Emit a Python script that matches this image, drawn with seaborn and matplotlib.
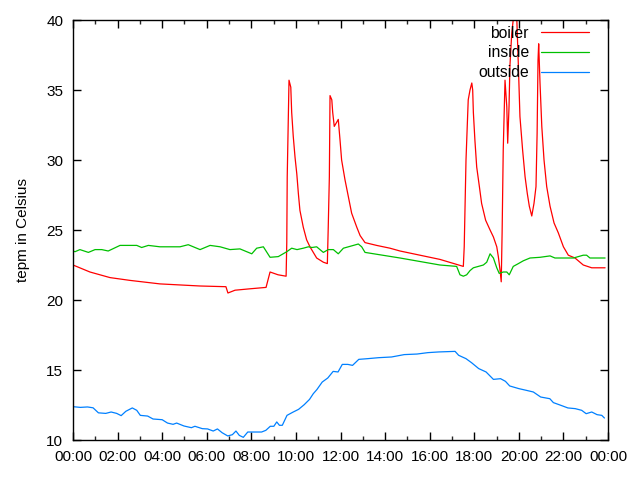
import matplotlib
matplotlib.use("Agg")
import matplotlib.pyplot as plt
import seaborn as sns
import pandas as pd
from matplotlib.ticker import MultipleLocator, FuncFormatter

# ---- data (hours since midnight, degrees Celsius) ----
boiler_h = [0.0, 0.76, 1.66, 2.56, 3.9, 5.7, 6.86, 6.95, 7.27, 7.94, 8.66, 8.84, 9.2, 9.56,
            9.59, 9.61, 9.69, 9.77, 9.81, 9.88, 9.96, 10.04, 10.11, 10.18, 10.33, 10.48, 10.63,
            10.93, 11.23, 11.41, 11.45, 11.5, 11.53, 11.61, 11.65, 11.72, 11.83, 11.9, 11.98,
            12.05, 12.2, 12.35, 12.5, 12.73, 12.88, 13.1, 13.62, 14.22, 14.67, 16.46, 17.51,
            17.55, 17.63, 17.69, 17.73, 17.81, 17.89, 17.93, 17.96, 18.03, 18.11, 18.23, 18.33,
            18.51, 18.71, 18.86, 19.01, 19.08, 19.16, 19.21, 19.25, 19.3, 19.38, 19.43, 19.46,
            19.5, 19.56, 19.6, 19.68, 19.78, 19.9, 19.98, 20.05, 20.17, 20.28, 20.38, 20.47,
            20.58, 20.68, 20.77, 20.82, 20.86, 20.89, 20.95, 21.03, 21.13, 21.25, 21.4, 21.58,
            21.77, 22.0, 22.22, 22.52, 22.89, 23.27, 23.87]
boiler_t = [22.5, 22.0, 21.6, 21.4, 21.15, 21.0, 20.95, 20.5, 20.7, 20.8, 20.9, 22.0, 21.8, 21.7,
            24.1, 28.8, 35.7, 35.2, 33.4, 31.7, 30.2, 29.0, 27.6, 26.4, 25.2, 24.3, 23.8,
            23.0, 22.7, 22.6, 25.2, 28.8, 34.6, 34.3, 33.4, 32.4, 32.7, 32.9, 31.4,
            30.0, 28.6, 27.4, 26.2, 25.2, 24.6, 24.1, 23.9, 23.7, 23.5, 22.9, 22.4,
            23.8, 30.0, 32.6, 34.3, 35.0, 35.5, 35.0, 33.4, 31.4, 29.5, 28.1, 26.9,
            25.7, 25.0, 24.5, 23.8, 23.1, 22.1, 21.3, 24.8, 30.7, 35.7, 34.5, 33.8,
            31.2, 33.8, 36.7, 39.0, 40.5, 40.5, 36.7, 33.1, 30.7, 28.8, 27.6, 26.7,
            26.0, 26.9, 28.1, 31.9, 37.1, 38.3, 35.5, 32.4, 30.0, 28.1, 26.7, 25.5,
            24.8, 23.8, 23.2, 23.0, 22.5, 22.3, 22.3]

inside_h = [0.0, 0.09, 0.31, 0.69, 0.99, 1.29, 1.58, 2.11, 2.41, 2.86, 3.08, 3.38, 3.9, 4.35,
            4.8, 5.17, 5.7, 6.15, 6.6, 7.04, 7.49, 8.02, 8.24, 8.54, 8.84, 9.21, 9.59, 9.81,
            10.05, 10.33, 10.56, 10.72, 10.93, 11.23, 11.45, 11.68, 11.9, 12.13, 12.58, 12.8,
            12.95, 13.1, 14.67, 16.46, 17.21, 17.36, 17.51, 17.66, 17.81, 17.96, 18.41, 18.56,
            18.71, 18.86, 19.01, 19.12, 19.3, 19.46, 19.57, 19.75, 19.98, 20.2, 20.5, 20.95,
            21.4, 21.62, 21.85, 22.45, 22.89, 23.04, 23.19, 23.87]
inside_t = [23.5, 23.45, 23.6, 23.4, 23.6, 23.6, 23.5, 23.9, 23.9, 23.9, 23.75, 23.9, 23.8, 23.8,
            23.8, 23.95, 23.6, 23.9, 23.8, 23.6, 23.65, 23.3, 23.7, 23.8, 23.05, 23.1, 23.45, 23.7,
            23.6, 23.7, 23.8, 23.75, 23.8, 23.4, 23.6, 23.6, 23.3, 23.7, 23.9, 24.0,
            23.8, 23.4, 23.0, 22.5, 22.4, 21.8, 21.7, 21.8, 22.1, 22.3, 22.5, 22.7,
            23.3, 23.0, 22.3, 21.9, 22.0, 22.0, 21.8, 22.4, 22.6, 22.8, 23.0, 23.05,
            23.15, 23.0, 23.0, 23.0, 23.2, 23.2, 23.0, 23.0]

outside_h = [0.0, 0.33, 0.65, 0.9, 1.14, 1.47, 1.71, 1.96, 2.16, 2.37, 2.66, 2.86, 3.02, 3.35,
             3.59, 4.0, 4.24, 4.49, 4.65, 4.98, 5.31, 5.47, 5.8, 6.04, 6.29, 6.48, 6.69, 6.94,
             7.15, 7.31, 7.46, 7.64, 7.84, 8.16, 8.46, 8.65, 8.85, 9.01, 9.14, 9.26, 9.39, 9.6,
             9.88, 10.12, 10.37, 10.61, 10.78, 10.94, 11.18, 11.43, 11.67, 11.89, 12.08, 12.33,
             12.54, 12.82, 13.22, 13.71, 14.29, 14.86, 15.43, 15.92, 16.41, 17.14, 17.3, 17.63,
             17.88, 18.2, 18.53, 18.86, 19.18, 19.4, 19.59, 20.0, 20.33, 20.65, 20.98, 21.39,
             21.55, 21.88, 22.2, 22.53, 22.82, 23.02, 23.27, 23.51, 23.72, 23.84]
outside_t = [12.38, 12.33, 12.36, 12.3, 11.94, 11.9, 12.0, 11.9, 11.74, 12.05, 12.29, 12.12, 11.76, 11.71,
             11.5, 11.45, 11.21, 11.12, 11.21, 11.0, 10.88, 10.98, 10.81, 10.79, 10.64, 10.79, 10.52, 10.29,
             10.38, 10.64, 10.33, 10.19, 10.57, 10.57, 10.57, 10.69, 10.98, 10.98, 11.29, 11.05, 11.05, 11.76,
             12.0, 12.19, 12.52, 12.9, 13.31, 13.6, 14.14, 14.43, 14.9, 14.86, 15.4, 15.4,
             15.33, 15.76, 15.81, 15.88, 15.93, 16.1, 16.14, 16.24, 16.29, 16.33, 16.05, 15.81,
             15.52, 15.1, 14.86, 14.33, 14.38, 14.19, 13.86, 13.67, 13.55, 13.43, 13.07, 12.95,
             12.67, 12.48, 12.29, 12.24, 12.12, 11.88, 12.0, 11.81, 11.76, 11.57]

series_names = ["boiler", "inside", "outside"]
series_colors = ["#ff0000", "#00c000", "#0080ff"]
y_label = "tepm in Celsius"

frames = []
for name, h, t in zip(series_names, [boiler_h, inside_h, outside_h],
                      [boiler_t, inside_t, outside_t]):
    frames.append(pd.DataFrame({"hour": h, "temp": t, "series": name}))
df = pd.concat(frames, ignore_index=True)

sns.set_style("white")
plt.rcParams["font.family"] = ["Liberation Sans", "DejaVu Sans"]
plt.rcParams["text.color"] = "black"
plt.rcParams["axes.labelcolor"] = "black"

fig = plt.figure(figsize=(6.4, 4.8), dpi=100)
ax = fig.add_axes([73 / 640, 1 - 440 / 480, (608 - 73) / 640, (440 - 20) / 480])

sns.lineplot(data=df, x="hour", y="temp", hue="series", hue_order=series_names,
             palette=series_colors, linewidth=0.9, sort=False, estimator=None, ax=ax,
             legend=True)

ax.set_xlim(0, 24)
ax.set_ylim(10, 40)
ax.xaxis.set_major_locator(MultipleLocator(2))
ax.xaxis.set_minor_locator(MultipleLocator(1))
ax.yaxis.set_major_locator(MultipleLocator(5))
ax.xaxis.set_major_formatter(FuncFormatter(lambda v, p: "%02d:00" % (int(round(v)) % 24 if v < 24 else 0)))
ax.set_xlabel("")
ax.set_ylabel(y_label, fontsize=11, labelpad=12, color="black")

for s in ax.spines.values():
    s.set_visible(True)
    s.set_color("black")
    s.set_linewidth(1.0)

ax.tick_params(axis="both", which="major", direction="in", length=6, width=1,
               top=True, right=True, bottom=True, left=True, labelsize=11, pad=7, colors="black")
ax.tick_params(axis="x", which="minor", direction="in", length=3, width=1,
               top=True, bottom=True)
ax.grid(False)

leg = ax.legend(frameon=False, loc="upper right", markerfirst=False, fontsize=11.3,
                handlelength=3.0, handletextpad=0.8, labelspacing=0.3,
                bbox_to_anchor=(0.99, 1.02))
for line in leg.get_lines():
    line.set_linewidth(0.9)
for t in leg.get_texts():
    t.set_color("black")

fig.savefig("out.png", dpi=100)
